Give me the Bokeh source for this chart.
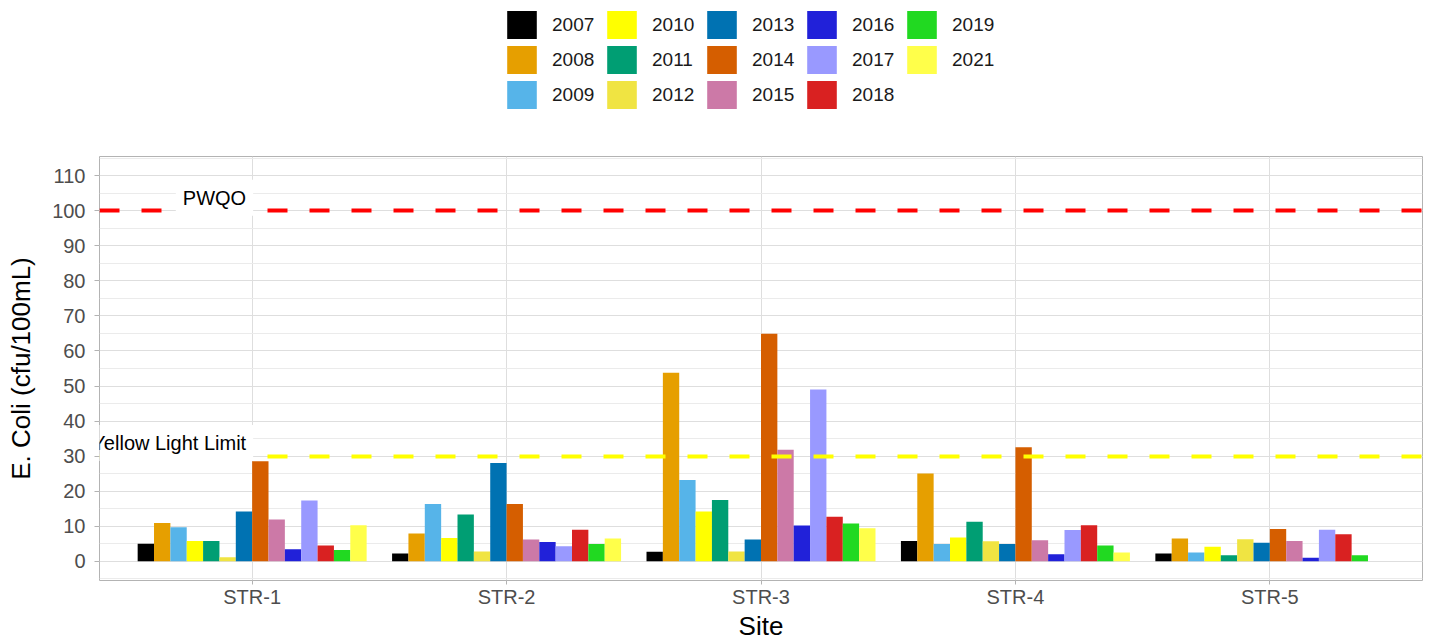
from bokeh.plotting import figure
from bokeh.layouts import column
from bokeh.models import (ColumnDataSource, Range1d, FixedTicker, SingleIntervalTicker,
                          Legend, LegendItem)
from bokeh.transform import dodge
from bokeh.core.properties import value
from bokeh.embed import file_html
from bokeh.resources import INLINE

# ---------------- data ----------------
sites = ["STR-1", "STR-2", "STR-3", "STR-4", "STR-5"]
years = ["2007", "2008", "2009", "2010", "2011", "2012", "2013",
         "2014", "2015", "2016", "2017", "2018", "2019", "2021"]
year_colors = ["#000000", "#E69F00", "#56B4E9", "#FFFF00", "#009E73", "#F0E442", "#0072B2",
               "#D55E00", "#CC79A7", "#2121D9", "#9999FF", "#D92121", "#21D921", "#FFFF4A"]

e2007 = [5.0, 2.2, 2.7, 5.8, 2.2]
e2008 = [10.9, 7.9, 53.8, 25.0, 6.5]
e2009 = [9.7, 16.3, 23.2, 4.9, 2.5]
e2010 = [5.8, 6.6, 14.2, 6.8, 4.1]
e2011 = [5.8, 13.3, 17.5, 11.3, 1.7]
e2012 = [1.1, 2.8, 2.8, 5.7, 6.3]
e2013 = [14.2, 28.0, 6.2, 4.9, 5.3]
e2014 = [28.5, 16.3, 64.9, 32.5, 9.2]
e2015 = [11.9, 6.2, 31.8, 6.0, 5.8]
e2016 = [3.4, 5.5, 10.2, 2.0, 1.0]
e2017 = [17.3, 4.3, 49.0, 8.9, 9.0]
e2018 = [4.5, 9.0, 12.7, 10.3, 7.7]
e2019 = [3.2, 4.9, 10.8, 4.5, 1.7]
e2021 = [10.3, 6.5, 9.4, 2.5, None]
series = [e2007, e2008, e2009, e2010, e2011, e2012, e2013,
          e2014, e2015, e2016, e2017, e2018, e2019, e2021]

limit_names = ["PWQO", "Yellow Light Limit"]
limit_values = [100, 30]
limit_colors = ["#FF0000", "#FFFF00"]

# ---------------- layout constants ----------------
site_pos = list(range(1, len(sites) + 1))
FONT = "Liberation Sans"
W = 1427
LEG_H = 130
FRAME_LEFT = 99

# ---------------- main figure ----------------
p = figure(width=W, height=644 - LEG_H,
           x_range=Range1d(0.4, len(sites) + 0.6), y_range=Range1d(-5.5, 115.5),
           output_backend="svg", toolbar_location=None,
           min_border_left=FRAME_LEFT, min_border_right=5, min_border_top=156 - LEG_H,
           min_border_bottom=64)

p.background_fill_color = "white"
p.border_fill_color = "white"
p.outline_line_color = "#B3B3B3"
p.outline_line_width = 1

n = len(years)
bar_w = 0.9 / n
for j, (yr, col, vals) in enumerate(zip(years, year_colors, series)):
    xs = [sp for sp, v in zip(site_pos, vals) if v is not None]
    vs = [v for v in vals if v is not None]
    src = ColumnDataSource(dict(site=xs, val=vs))
    off = (j - (n - 1) / 2) * bar_w
    p.vbar(x=dodge("site", off, range=p.x_range), top="val", bottom=0,
           width=bar_w, source=src, fill_color=col, line_color=None)

lim_src = ColumnDataSource(dict(y=limit_values, name=limit_names, color=limit_colors,
                                x=[site_pos[0]] * len(limit_names)))
p.hspan(y="y", source=lim_src, line_color="color", line_width=4, line_dash="20 22")
p.text(x="x", y="y", text="name", source=lim_src,
       text_font=value(FONT), text_font_size="20px", text_color="#000000",
       text_align="right", text_baseline="middle", x_offset=1, y_offset=-13,
       background_fill_color="white", padding=7)

# axes
p.xaxis.ticker = FixedTicker(ticks=site_pos)
p.xaxis.major_label_overrides = {sp: s for sp, s in zip(site_pos, sites)}
p.yaxis.ticker = SingleIntervalTicker(interval=10, num_minor_ticks=2)
p.xgrid.ticker = FixedTicker(ticks=site_pos)

for ax in (p.xaxis, p.yaxis):
    ax.axis_line_color = None
    ax.major_tick_line_color = "#B3B3B3"
    ax.major_tick_out = 5
    ax.major_tick_in = 0
    ax.minor_tick_line_color = None
    ax.major_label_text_font = FONT
    ax.major_label_text_font_size = "20px"
    ax.major_label_text_color = "#4D4D4D"
    ax.axis_label_text_font = FONT
    ax.axis_label_text_font_size = "26px"
    ax.axis_label_text_font_style = "normal"
    ax.axis_label_text_color = "#000000"
p.xaxis.axis_label = "Site"
p.yaxis.axis_label = "E. Coli (cfu/100mL)"
p.xaxis.major_tick_out = 4
p.xaxis.major_label_standoff = 1
p.xaxis.axis_label_standoff = 0
p.yaxis.major_label_standoff = 9
p.yaxis.axis_label_standoff = 13

p.xgrid.grid_line_color = "#DEDEDE"
p.ygrid.grid_line_color = "#DEDEDE"
p.ygrid.minor_grid_line_color = "#EBEBEB"
p.xgrid.grid_line_width = 1
p.ygrid.grid_line_width = 1

# ---------------- legend strip (separate figure above) ----------------
lg = figure(width=W, height=LEG_H, output_backend="svg", toolbar_location=None,
            min_border=0, x_range=Range1d(0, 1), y_range=Range1d(0, 1))
lg.axis.visible = False
lg.grid.visible = False
lg.outline_line_color = None
lg.background_fill_color = "white"
lg.border_fill_color = "white"

nan = float("nan")
items = []
for yr, col in zip(years, year_colors):
    # placeholder renderer (NaN data: nothing drawn) that carries the legend swatch
    r = lg.vbar(x=[nan], top=[nan], width=0.1, fill_color=col, line_color=None)
    items.append(LegendItem(label=yr, renderers=[r]))

nrows = 3
ncols = (n + nrows - 1) // nrows
ordered = [items[c * nrows + r] for r in range(nrows) for c in range(ncols) if c * nrows + r < n]
legend = Legend(items=ordered, orientation="horizontal", ncols=ncols,
                location=(404 - 0 + 507 - 507 - 0 if False else 503 - FRAME_LEFT, 18),
                glyph_width=37, glyph_height=35, spacing=0, label_standoff=12,
                label_width=51, padding=0, margin=0,
                label_text_font=FONT, label_text_font_size="19px",
                label_text_color="#1A1A1A",
                border_line_color=None, background_fill_alpha=0)
lg.add_layout(legend)

layout = column(lg, p, spacing=0)
open("out.html", "w").write(file_html(layout, INLINE))
